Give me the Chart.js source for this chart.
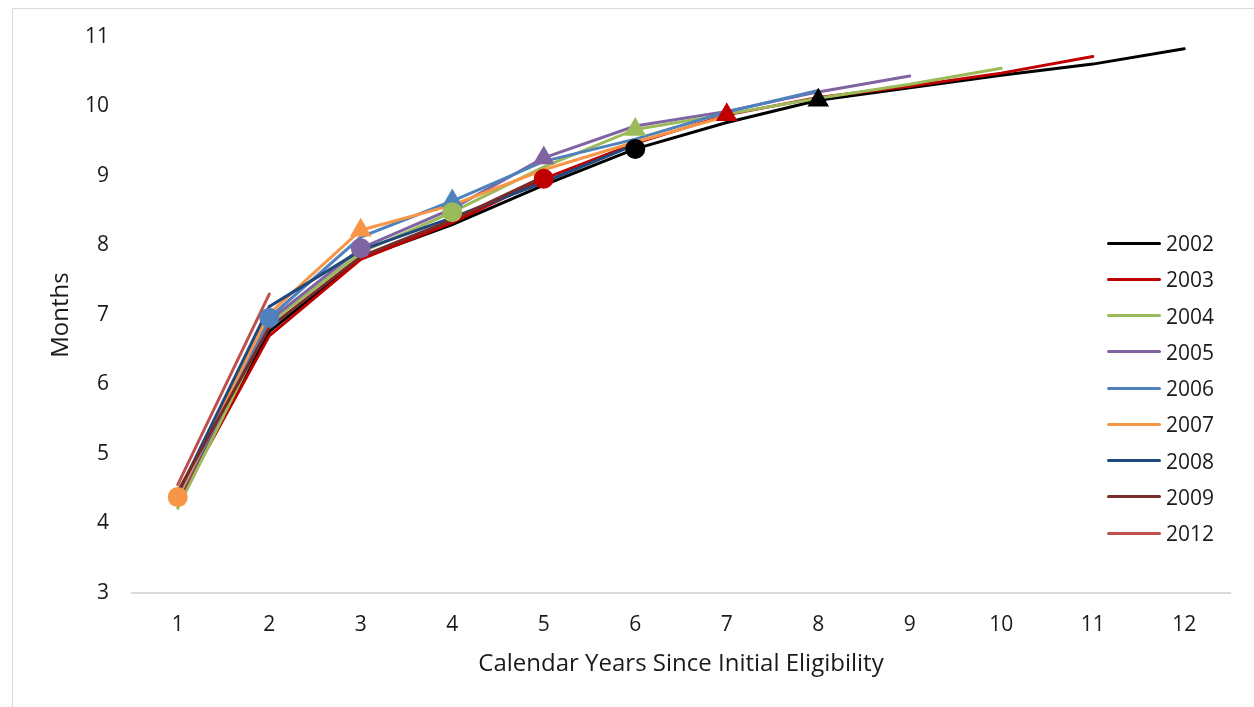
<!DOCTYPE html>
<html>
<head>
<meta charset="utf-8">
<script src="https://cdn.jsdelivr.net/npm/chart.js@4.4.1/dist/chart.umd.min.js"></script>
<style>
    html, body { margin: 0; padding: 0; background: #fff; overflow: hidden; }
    #wrap { position: relative; width: 1254px; height: 707px; overflow: hidden; }
    #frame { position: absolute; left: 12px; top: 8px; width: 1300px; height: 800px; border: 1.5px solid #d9d9d9; }
    #chart { position: absolute; left: 0; top: 0; }
    #legend { position: absolute; left: 1107px; top: 225px; font-family: 'Open Sans', sans-serif; font-size: 21px; color: #1a1a1a; }
    .item { height: 36.25px; display: flex; align-items: center; }
    .swatch { width: 54px; height: 3px; border-radius: 2px; margin-right: 5px; }
</style>
</head>
<body>
<div id="wrap">
    <div id="frame"></div>
    <canvas id="chart" width="1254" height="707"></canvas>
    <div id="legend"></div>
</div>
<script>
// Calendar years since initial eligibility (x axis)
const years = ['1', '2', '3', '4', '5', '6', '7', '8', '9', '10', '11', '12'];

// Cohorts (year of initial eligibility)
const cohorts = ['2002', '2003', '2004', '2005', '2006', '2007', '2008', '2009', '2012'];

// Months, one array per cohort
const m2002 = [4.32, 6.76, 7.82, 8.30, 8.87, 9.39, 9.77, 10.09, 10.27, 10.45, 10.61, 10.83];
const m2003 = [4.30, 6.70, 7.80, 8.33, 8.96, 9.47, 9.88, 10.13, 10.29, 10.48, 10.72];
const m2004 = [4.22, 6.88, 7.90, 8.48, 9.13, 9.67, 9.89, 10.12, 10.32, 10.55];
const m2005 = [4.35, 6.92, 7.96, 8.53, 9.26, 9.72, 9.93, 10.21, 10.44];
const m2006 = [4.37, 6.96, 8.12, 8.64, 9.21, 9.53, 9.92, 10.23];
const m2007 = [4.38, 7.02, 8.22, 8.58, 9.09, 9.49, 9.86];
const m2008 = [4.42, 7.12, 7.93, 8.40, 8.91, 9.45];
const m2009 = [4.46, 6.82, 7.84, 8.37, 8.99];
const m2012 = [4.56, 7.30];

// Marked calendar years: circle for 2007, triangle for 2009 (only cohorts up to 2007 are marked)
const circleYear = 2007;
const triangleYear = 2009;
const markedCohorts = ['2002', '2003', '2004', '2005', '2006', '2007'];

const yTicks = [3, 4, 5, 6, 7, 8, 9, 10, 11];

const series = [m2002, m2003, m2004, m2005, m2006, m2007, m2008, m2009, m2012];
const colors = ['#000000', '#c00000', '#9bbb59', '#8064a2', '#4f81bd', '#f79646', '#1f497d', '#772c2a', '#c0504d'];

const FONT = "'Open Sans', sans-serif";
const TEXT = '#1a1a1a';

// one line per cohort, later cohorts on top
const lineSets = cohorts.map((c, i) => ({
    label: c,
    data: series[i],
    borderColor: colors[i],
    backgroundColor: colors[i],
    borderWidth: 3,
    borderCapStyle: 'round',
    pointRadius: 0,
    tension: 0,
    order: 20 - i
}));

// marker series: value of each marked cohort at the given calendar year
function markerSet(year, style, radius, order) {
    const data = years.map(() => null);
    const fill = years.map(() => 'rgba(0,0,0,0)');
    cohorts.forEach((c, i) => {
        if (markedCohorts.indexOf(c) < 0) return;
        const k = year - parseInt(c, 10);
        if (k >= 0 && k < series[i].length) {
            data[k] = series[i][k];
            fill[k] = colors[i];
        }
    });
    return {
        label: 'marker' + year,
        data: data,
        showLine: false,
        pointStyle: style,
        pointRadius: radius,
        pointHoverRadius: radius,
        pointBackgroundColor: fill,
        pointBorderWidth: 0,
        borderWidth: 0,
        order: order
    };
}

const ctx = document.getElementById('chart').getContext('2d');
const chart = new Chart(ctx, {
    type: 'line',
    data: {
        labels: years,
        datasets: lineSets.concat([
            markerSet(triangleYear, 'triangle', 12.5, 1),
            markerSet(circleYear, 'circle', 10, 0)
        ])
    },
    options: {
        responsive: false,
        animation: false,
        layout: { padding: { left: 0, top: 37, right: 24, bottom: 0 } },
        plugins: {
            legend: { display: false },
            tooltip: { enabled: false }
        },
        scales: {
            x: {
                offset: true,
                grid: { display: false, drawTicks: false },
                border: { display: true, color: '#d9d9d9', width: 2 },
                ticks: { color: TEXT, padding: 19, font: { family: FONT, size: 21 } },
                title: {
                    display: true,
                    text: 'Calendar Years Since Initial Eligibility',
                    color: TEXT,
                    font: { family: FONT, size: 24 },
                    padding: { top: 0, bottom: 28 }
                },
                afterFit: function (scale) { scale.height = 114; }
            },
            y: {
                min: 3,
                max: 11,
                grid: { display: false, drawTicks: false },
                border: { display: false },
                afterBuildTicks: function (scale) { scale.ticks = yTicks.map(v => ({ value: v })); },
                ticks: { color: TEXT, padding: 23, font: { family: FONT, size: 21 } },
                title: {
                    display: true,
                    text: 'Months',
                    color: TEXT,
                    font: { family: FONT, size: 24 },
                    padding: { top: 47, bottom: 0 }
                },
                afterFit: function (scale) { scale.width = 132; }
            }
        }
    }
});

// legend overlay on the right of the plot
const legendEl = document.getElementById('legend');
lineSets.forEach(ds => {
    const row = document.createElement('div');
    row.className = 'item';
    const sw = document.createElement('span');
    sw.className = 'swatch';
    sw.style.background = ds.borderColor;
    const txt = document.createElement('span');
    txt.textContent = ds.label;
    row.appendChild(sw);
    row.appendChild(txt);
    legendEl.appendChild(row);
});
</script>
</body>
</html>
